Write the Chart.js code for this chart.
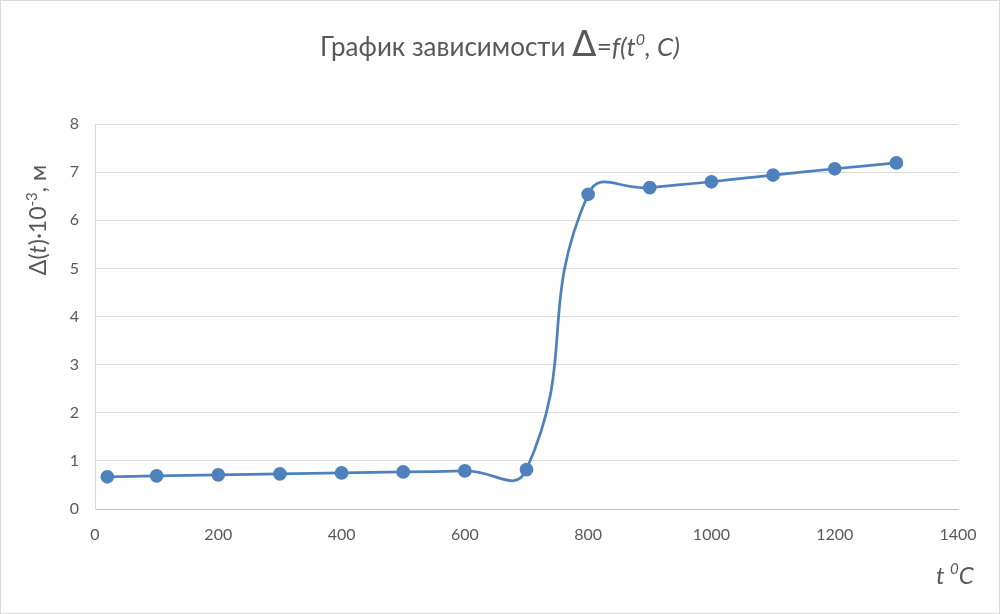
<!doctype html>
<html>
<head>
    <meta charset="UTF-8"/>
    <title>График зависимости</title>
    <script src="https://cdn.jsdelivr.net/npm/chart.js@4.4.0/dist/chart.umd.min.js"></script>
</head>
<body style="margin: 0;">
<div style="width: 1000px; height: 614px;">
    <canvas id="myChart" width="1000" height="614"></canvas>
</div>

<script>
    // data
    let temps  = [20, 100, 200, 300, 400, 500, 600, 700, 800, 900, 1000, 1100, 1200, 1300];
    let deltas = [0.67, 0.69, 0.71, 0.73, 0.75, 0.77, 0.79, 0.82, 6.54, 6.68, 6.80, 6.94, 7.07, 7.19];
    let xTicks = [0, 200, 400, 600, 800, 1000, 1200, 1400];
    let yTicks = [0, 1, 2, 3, 4, 5, 6, 7, 8];

    let grey = '#595959';
    let font = 'Lato, "Open Sans", sans-serif';

    // draws a row of text pieces with their own fonts
    function drawPieces(ctx, pieces, x, y, align) {
        let total = 0;
        pieces.forEach((p) => { ctx.font = p.font; total += ctx.measureText(p.text).width; });
        let cx = align === 'center' ? x - total / 2 : x;
        pieces.forEach((p) => {
            ctx.font = p.font;
            ctx.fillText(p.text, cx, y + (p.dy || 0));
            cx += ctx.measureText(p.text).width;
        });
    }

    const decor = {
        id: 'decor',
        beforeDraw(chart) {
            let ctx = chart.ctx;
            ctx.save();
            ctx.fillStyle = '#fff';
            ctx.fillRect(0, 0, chart.width, chart.height);
            ctx.strokeStyle = '#d9d9d9';
            ctx.lineWidth = 1;
            ctx.strokeRect(0.5, 0.5, chart.width - 1, chart.height - 1);
            ctx.restore();
        },
        afterDraw(chart) {
            let ctx = chart.ctx;
            ctx.save();
            ctx.fillStyle = grey;
            ctx.textBaseline = 'alphabetic';
            ctx.textAlign = 'left';
            // title
            drawPieces(ctx, [
                {text: 'График зависимости ', font: '26px ' + font},
                {text: 'Δ', font: '36px "DejaVu Sans", ' + font},
                {text: '=', font: '26px ' + font},
                {text: 'f(t', font: 'italic 26px ' + font},
                {text: '0', font: 'italic 16px ' + font, dy: -11},
                {text: ', C)', font: 'italic 26px ' + font}
            ], 500, 56, 'center');
            // y axis title
            ctx.save();
            ctx.translate(46, 220);
            ctx.rotate(-Math.PI / 2);
            drawPieces(ctx, [
                {text: 'Δ(', font: '23px ' + font},
                {text: 't', font: 'italic 23px ' + font},
                {text: ')·10', font: '23px ' + font},
                {text: '-3', font: '15px ' + font, dy: -9},
                {text: ', м', font: '23px ' + font}
            ], 0, 0, 'center');
            ctx.restore();
            // x axis title
            drawPieces(ctx, [
                {text: 't ', font: 'italic 24px ' + font},
                {text: '0', font: 'italic 15px ' + font, dy: -10},
                {text: 'C', font: 'italic 24px ' + font}
            ], 936, 584, 'left');
            ctx.restore();
        }
    };

    var ctx = document.getElementById('myChart').getContext('2d');
    var myChart = new Chart(ctx, {
        type: 'line',
        data: {
            datasets: [
                {
                    data                : temps.map((t, i) => ({x: t, y: deltas[i]})),
                    borderColor         : '#4f81bd',
                    backgroundColor     : '#4f81bd',
                    borderWidth         : 2.75,
                    pointRadius         : 5.5,
                    pointHoverRadius    : 5.5,
                    tension             : 0.5,
                    cubicInterpolationMode: 'default',
                }
            ]
        },
        options: {
            responsive: false,
            animation : false,
            layout    : {padding: {left: 0, right: 42, top: 124, bottom: 65}},
            plugins   : {legend: {display: false}, title: {display: false}, tooltip: {enabled: false}},
            scales    : {
                x: {
                    type : 'linear',
                    min  : 0,
                    max  : 1400,
                    afterBuildTicks: (scale) => { scale.ticks = xTicks.map((v) => ({value: v})); },
                    afterFit: (scale) => { scale.height = 40; },
                    grid : {display: false, drawTicks: false},
                    border: {display: true, color: '#bfbfbf', width: 1},
                    ticks: {color: grey, font: {family: font, size: 16}, padding: 16, maxRotation: 0,
                            callback: (v) => String(v)}
                },
                y: {
                    min  : 0,
                    max  : 8,
                    afterBuildTicks: (scale) => { scale.ticks = yTicks.map((v) => ({value: v})); },
                    afterFit: (scale) => { scale.width = 95; },
                    grid : {color: '#d9d9d9', drawTicks: false},
                    border: {display: true, color: '#d9d9d9', width: 1},
                    ticks: {color: grey, font: {family: font, size: 16}, padding: 16,
                            callback: (v) => String(v)}
                }
            }
        },
        plugins: [decor]
    });
</script>
</body>
</html>
